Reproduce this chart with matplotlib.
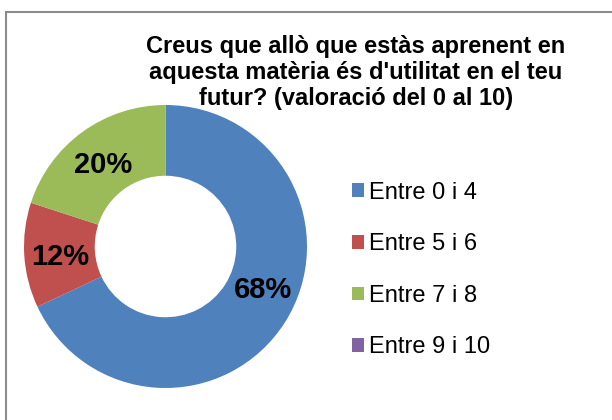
import numpy as np
import matplotlib
matplotlib.use("Agg")
import matplotlib.pyplot as plt
from matplotlib.patches import Patch, Rectangle

plt.rcParams["font.family"] = ["Liberation Sans", "DejaVu Sans"]

title = "Creus que allò que estàs aprenent en\naquesta matèria és d'utilitat en el teu\nfutur? (valoració del 0 al 10)"
categories = ["Entre 0 i 4", "Entre 5 i 6", "Entre 7 i 8", "Entre 9 i 10"]
values = [68, 12, 20, 0]
colors = ["#4F81BD", "#C0504D", "#9BBB59", "#8064A2"]

fig = plt.figure(figsize=(6.12, 4.2), dpi=100)

# chart frame (only top/left edges fall inside the picture)
fig.patches.append(Rectangle((6 / 612, -0.1), 1.2, 1 - 12 / 420 + 0.1, transform=fig.transFigure,
                             fill=False, edgecolor="#8C8C8C", linewidth=1.5))

ax = fig.add_axes([24 / 612, 32 / 420, 283 / 612, 283 / 420])
wedges, _ = ax.pie(values, colors=colors, startangle=90, counterclock=False,
                   radius=1.0, wedgeprops=dict(width=0.5, edgecolor="none"))
ax.set_xlim(-1, 1)
ax.set_ylim(-1, 1)
ax.set_aspect("equal")
ax.axis("off")

# data labels, Excel nudges the big one a bit
nudge = [10, 0, 0, 0]
start = 90.0
total = float(sum(values))
for v, w, dn in zip(values, wedges, nudge):
    span = 360.0 * v / total
    mid = np.deg2rad(start - span / 2 + dn)
    start -= span
    if v == 0:
        continue
    ax.text(0.745 * np.cos(mid), 0.745 * np.sin(mid) - 0.025, f"{v}%", ha="center", va="center",
            fontsize=21, fontweight="bold", color="black")

fig.text(356 / 612, 1 - 72.5 / 420, title, ha="center", va="center", fontsize=17,
         fontweight="bold", linespacing=1.15)

handles = [Patch(facecolor=c, edgecolor="none") for c in colors]
fig.legend(handles, categories, loc="center left", bbox_to_anchor=(352 / 612, 1 - 270 / 420),
           frameon=False, fontsize=17, handlelength=0.52, handleheight=0.52,
           handletextpad=0.22, labelspacing=1.25, borderpad=0, borderaxespad=0)

fig.savefig("out.png", dpi=100)
